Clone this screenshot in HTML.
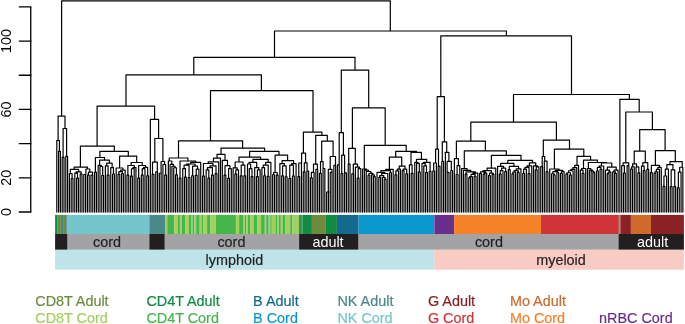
<!DOCTYPE html>
<html><head><meta charset="utf-8"><style>
html,body{margin:0;padding:0;background:#fff;}
svg{display:block;font-family:"Liberation Sans",sans-serif;}
.t{opacity:0.999;will-change:opacity;}
</style></head><body>
<svg width="685" height="324" viewBox="0 0 685 324">
<rect x="55.10" y="214.9" width="2.10" height="19.1" fill="#0F8B44"/><rect x="57.20" y="214.9" width="3.70" height="19.1" fill="#6E8B3D"/><rect x="60.90" y="214.9" width="3.00" height="19.1" fill="#4B888A"/><rect x="63.90" y="214.9" width="2.30" height="19.1" fill="#6E8B3D"/><rect x="66.20" y="214.9" width="1.40" height="19.1" fill="#4B888A"/><rect x="67.60" y="214.9" width="81.70" height="19.1" fill="#77C5CC"/><rect x="149.30" y="214.9" width="15.70" height="19.1" fill="#4B888A"/><rect x="165.00" y="214.9" width="2.20" height="19.1" fill="#A2CF5E"/><rect x="167.20" y="214.9" width="7.00" height="19.1" fill="#45B649"/><rect x="174.20" y="214.9" width="3.60" height="19.1" fill="#A2CF5E"/><rect x="177.80" y="214.9" width="2.10" height="19.1" fill="#45B649"/><rect x="179.90" y="214.9" width="2.10" height="19.1" fill="#A2CF5E"/><rect x="182.00" y="214.9" width="3.10" height="19.1" fill="#45B649"/><rect x="185.10" y="214.9" width="3.90" height="19.1" fill="#A2CF5E"/><rect x="189.00" y="214.9" width="2.00" height="19.1" fill="#45B649"/><rect x="191.00" y="214.9" width="1.50" height="19.1" fill="#A2CF5E"/><rect x="192.50" y="214.9" width="2.00" height="19.1" fill="#45B649"/><rect x="194.50" y="214.9" width="1.70" height="19.1" fill="#A2CF5E"/><rect x="196.20" y="214.9" width="3.50" height="19.1" fill="#45B649"/><rect x="199.70" y="214.9" width="1.80" height="19.1" fill="#A2CF5E"/><rect x="201.50" y="214.9" width="1.70" height="19.1" fill="#45B649"/><rect x="203.20" y="214.9" width="3.90" height="19.1" fill="#A2CF5E"/><rect x="207.10" y="214.9" width="3.40" height="19.1" fill="#45B649"/><rect x="210.50" y="214.9" width="5.30" height="19.1" fill="#A2CF5E"/><rect x="215.80" y="214.9" width="20.10" height="19.1" fill="#45B649"/><rect x="235.90" y="214.9" width="3.20" height="19.1" fill="#A2CF5E"/><rect x="239.10" y="214.9" width="3.90" height="19.1" fill="#45B649"/><rect x="243.00" y="214.9" width="1.70" height="19.1" fill="#A2CF5E"/><rect x="244.70" y="214.9" width="1.50" height="19.1" fill="#45B649"/><rect x="246.20" y="214.9" width="1.60" height="19.1" fill="#A2CF5E"/><rect x="247.80" y="214.9" width="2.30" height="19.1" fill="#45B649"/><rect x="250.10" y="214.9" width="3.60" height="19.1" fill="#A2CF5E"/><rect x="253.70" y="214.9" width="3.60" height="19.1" fill="#45B649"/><rect x="257.30" y="214.9" width="3.80" height="19.1" fill="#A2CF5E"/><rect x="261.10" y="214.9" width="3.70" height="19.1" fill="#45B649"/><rect x="264.80" y="214.9" width="1.40" height="19.1" fill="#A2CF5E"/><rect x="266.20" y="214.9" width="2.50" height="19.1" fill="#45B649"/><rect x="268.70" y="214.9" width="1.60" height="19.1" fill="#A2CF5E"/><rect x="270.30" y="214.9" width="1.50" height="19.1" fill="#45B649"/><rect x="271.80" y="214.9" width="3.60" height="19.1" fill="#A2CF5E"/><rect x="275.40" y="214.9" width="1.70" height="19.1" fill="#45B649"/><rect x="277.10" y="214.9" width="1.80" height="19.1" fill="#A2CF5E"/><rect x="278.90" y="214.9" width="1.90" height="19.1" fill="#45B649"/><rect x="280.80" y="214.9" width="2.00" height="19.1" fill="#A2CF5E"/><rect x="282.80" y="214.9" width="2.30" height="19.1" fill="#45B649"/><rect x="285.10" y="214.9" width="5.10" height="19.1" fill="#A2CF5E"/><rect x="290.20" y="214.9" width="2.00" height="19.1" fill="#45B649"/><rect x="292.20" y="214.9" width="4.60" height="19.1" fill="#A2CF5E"/><rect x="296.80" y="214.9" width="0.80" height="19.1" fill="#45B649"/><rect x="297.60" y="214.9" width="1.50" height="19.1" fill="#A2CF5E"/><rect x="299.10" y="214.9" width="1.80" height="19.1" fill="#0F8B44"/><rect x="300.90" y="214.9" width="1.50" height="19.1" fill="#6E8B3D"/><rect x="302.40" y="214.9" width="9.50" height="19.1" fill="#0F8B44"/><rect x="311.90" y="214.9" width="14.00" height="19.1" fill="#6E8B3D"/><rect x="325.90" y="214.9" width="11.00" height="19.1" fill="#0F8B44"/><rect x="336.90" y="214.9" width="21.70" height="19.1" fill="#136A8E"/><rect x="358.60" y="214.9" width="75.80" height="19.1" fill="#0B98CF"/><rect x="434.40" y="214.9" width="19.70" height="19.1" fill="#6B2D8E"/><rect x="454.10" y="214.9" width="86.90" height="19.1" fill="#F58129"/><rect x="541.00" y="214.9" width="77.60" height="19.1" fill="#D13438"/><rect x="618.60" y="214.9" width="0.90" height="19.1" fill="#8A2124"/><rect x="619.50" y="214.9" width="0.90" height="19.1" fill="#D0692A"/><rect x="620.40" y="214.9" width="10.50" height="19.1" fill="#8A2124"/><rect x="630.90" y="214.9" width="20.00" height="19.1" fill="#D0692A"/><rect x="650.90" y="214.9" width="33.00" height="19.1" fill="#8A2124"/><rect x="55.10" y="234.0" width="12.50" height="15.8" fill="#231F20"/><rect x="67.60" y="234.0" width="81.70" height="15.8" fill="#A3A3A6"/><rect x="149.30" y="234.0" width="15.50" height="15.8" fill="#231F20"/><rect x="164.80" y="234.0" width="134.30" height="15.8" fill="#A3A3A6"/><rect x="299.10" y="234.0" width="59.50" height="15.8" fill="#231F20"/><rect x="358.60" y="234.0" width="259.90" height="15.8" fill="#A3A3A6"/><rect x="618.50" y="234.0" width="65.40" height="15.8" fill="#231F20"/><rect x="55.10" y="249.8" width="379.30" height="19.9" fill="#BEE4E9"/><rect x="434.40" y="249.8" width="249.50" height="19.9" fill="#F9CBC5"/>
<g class="t"><text x="107.0" y="246.7" fill="#231F20" stroke="#231F20" stroke-width="0.2" font-size="14.4" text-anchor="middle">cord</text><text x="231.4" y="246.7" fill="#231F20" stroke="#231F20" stroke-width="0.2" font-size="14.4" text-anchor="middle">cord</text><text x="328.0" y="246.9" fill="#fff" stroke="#fff" stroke-width="0" font-size="14.4" text-anchor="middle">adult</text><text x="488.9" y="246.7" fill="#231F20" stroke="#231F20" stroke-width="0.2" font-size="14.4" text-anchor="middle">cord</text><text x="652.6" y="246.9" fill="#fff" stroke="#fff" stroke-width="0" font-size="14.4" text-anchor="middle">adult</text><text x="234.4" y="265.3" fill="#231F20" stroke="#231F20" stroke-width="0.2" font-size="14.4" text-anchor="middle">lymphoid</text><text x="561.0" y="265.3" fill="#231F20" stroke="#231F20" stroke-width="0.2" font-size="14.4" text-anchor="middle">myeloid</text>
<text x="35.300000000000004" y="306.0" fill="#6E8B3D" stroke="#6E8B3D" stroke-width="0.2" font-size="14.4" text-anchor="start">CD8T Adult</text><text x="35.300000000000004" y="322.9" fill="#A2CF5E" stroke="#A2CF5E" stroke-width="0.2" font-size="14.4" text-anchor="start">CD8T Cord</text><text x="146.39999999999998" y="306.0" fill="#0F8B44" stroke="#0F8B44" stroke-width="0.2" font-size="14.4" text-anchor="start">CD4T Adult</text><text x="146.39999999999998" y="322.9" fill="#45B649" stroke="#45B649" stroke-width="0.2" font-size="14.4" text-anchor="start">CD4T Cord</text><text x="253.1" y="306.0" fill="#136A8E" stroke="#136A8E" stroke-width="0.2" font-size="14.4" text-anchor="start">B Adult</text><text x="253.1" y="322.9" fill="#0B98CF" stroke="#0B98CF" stroke-width="0.2" font-size="14.4" text-anchor="start">B Cord</text><text x="337.4" y="306.0" fill="#4B888A" stroke="#4B888A" stroke-width="0.2" font-size="14.4" text-anchor="start">NK Adult</text><text x="337.4" y="322.9" fill="#77C5CC" stroke="#77C5CC" stroke-width="0.2" font-size="14.4" text-anchor="start">NK Cord</text><text x="427.9" y="306.0" fill="#8A2124" stroke="#8A2124" stroke-width="0.2" font-size="14.4" text-anchor="start">G Adult</text><text x="427.9" y="322.9" fill="#D13438" stroke="#D13438" stroke-width="0.2" font-size="14.4" text-anchor="start">G Cord</text><text x="509.9" y="306.0" fill="#D0692A" stroke="#D0692A" stroke-width="0.2" font-size="14.4" text-anchor="start">Mo Adult</text><text x="509.9" y="322.9" fill="#F58129" stroke="#F58129" stroke-width="0.2" font-size="14.4" text-anchor="start">Mo Cord</text><text x="599.1" y="322.9" fill="#6B2D8E" stroke="#6B2D8E" stroke-width="0.2" font-size="14.4" text-anchor="start">nRBC Cord</text>
<path d="M30.75 6.9V212.0" stroke="#000" stroke-width="1.3" fill="none"/><path d="M18.8 212.00H31.4M18.8 177.82H31.4M18.8 143.63H31.4M18.8 109.45H31.4M18.8 75.26H31.4M18.8 41.08H31.4M18.8 6.90H31.4" stroke="#000" stroke-width="1.3" fill="none"/><text transform="translate(10.8 212.00) rotate(-90)" font-size="14.4" text-anchor="middle" fill="#000">0</text><text transform="translate(10.8 177.82) rotate(-90)" font-size="14.4" text-anchor="middle" fill="#000">20</text><text transform="translate(10.8 109.45) rotate(-90)" font-size="14.4" text-anchor="middle" fill="#000">60</text><text transform="translate(10.8 41.08) rotate(-90)" font-size="14.4" text-anchor="middle" fill="#000">100</text></g>
<path d="M56.80 140.50L56.80 212.10M56.70 140.50L56.80 140.50M58.60 151.40L58.60 212.10M58.50 151.40L58.60 151.40M60.40 151.40L60.40 212.10M60.30 151.40L60.40 151.40M62.20 157.30L62.20 212.10M62.10 157.30L62.20 157.30M64.00 157.30L64.00 212.10M63.90 157.30L64.00 157.30M65.80 156.30L65.80 212.10M65.70 156.30L65.80 156.30M67.59 156.30L67.59 212.10M67.50 156.30L67.59 156.30M69.39 173.60L69.39 212.10M71.19 178.48L71.19 212.10M72.99 178.48L72.99 212.10M71.19 178.48L72.99 178.48M72.09 173.60L72.09 178.48M69.39 173.60L72.09 173.60M70.30 169.30L70.30 173.60M70.30 173.60L70.74 173.60M74.79 173.13L74.79 212.10M76.59 178.12L76.59 212.10M78.39 178.12L78.39 212.10M76.59 178.12L78.39 178.12M77.49 173.13L77.49 178.12M74.79 173.13L77.49 173.13M76.14 171.80L76.14 173.13M80.19 174.10L80.19 212.10M81.99 174.10L81.99 212.10M80.19 174.10L81.99 174.10M81.09 171.80L81.09 174.10M76.14 171.80L81.09 171.80M78.70 169.30L78.70 171.80M78.61 171.80L78.70 171.80M83.78 174.48L83.78 212.10M85.58 174.48L85.58 212.10M83.78 174.48L85.58 174.48M85.90 169.00L85.90 174.48M84.68 174.48L85.90 174.48M87.38 175.20L87.38 212.10M89.18 175.20L89.18 212.10M87.38 175.20L89.18 175.20M88.40 172.20L88.40 175.20M88.28 175.20L88.40 175.20M90.98 175.20L90.98 212.10M92.78 175.20L92.78 212.10M90.98 175.20L92.78 175.20M92.60 172.20L92.60 175.20M91.88 175.20L92.60 175.20M94.58 172.20L94.58 212.10M96.38 172.20L96.38 212.10M94.58 172.20L96.38 172.20M95.40 157.50L95.40 172.20M95.40 172.20L95.48 172.20M98.18 165.30L98.18 212.10M99.98 166.52L99.98 212.10M101.78 175.49L101.78 212.10M103.57 175.49L103.57 212.10M101.78 175.49L103.57 175.49M102.67 166.52L102.67 175.49M99.98 166.52L102.67 166.52M101.33 165.30L101.33 166.52M98.18 165.30L101.33 165.30M99.60 160.20L99.60 165.30M99.60 165.30L99.75 165.30M105.37 165.84L105.37 212.10M107.17 175.03L107.17 212.10M108.97 175.03L108.97 212.10M107.17 175.03L108.97 175.03M108.07 165.84L108.07 175.03M105.37 165.84L108.07 165.84M106.72 163.20L106.72 165.84M110.77 167.65L110.77 212.10M112.57 173.99L112.57 212.10M114.37 173.99L114.37 212.10M112.57 173.99L114.37 173.99M113.47 167.65L113.47 173.99M110.77 167.65L113.47 167.65M112.12 163.20L112.12 167.65M106.72 163.20L112.12 163.20M109.40 160.20L109.40 163.20M116.17 168.00L116.17 212.10M117.97 174.30L117.97 212.10M119.76 174.30L119.76 212.10M117.97 174.30L119.76 174.30M118.87 171.69L118.87 174.30M121.56 173.66L121.56 212.10M123.36 173.66L123.36 212.10M121.56 173.66L123.36 173.66M122.46 171.69L122.46 173.66M118.87 171.69L122.46 171.69M120.66 170.06L120.66 171.69M125.16 170.06L125.16 212.10M120.66 170.06L125.16 170.06M122.91 168.00L122.91 170.06M116.17 168.00L122.91 168.00M119.60 156.10L119.60 168.00M119.54 168.00L119.60 168.00M126.96 175.13L126.96 212.10M128.76 175.13L128.76 212.10M126.96 175.13L128.76 175.13M127.86 165.50L127.86 175.13M130.56 176.18L130.56 212.10M132.36 176.18L132.36 212.10M130.56 176.18L132.36 176.18M131.46 168.77L131.46 176.18M134.16 168.77L134.16 212.10M131.46 168.77L134.16 168.77M132.81 167.57L132.81 168.77M135.96 167.57L135.96 212.10M132.81 167.57L135.96 167.57M134.38 165.50L134.38 167.57M127.86 165.50L134.38 165.50M131.10 162.50L131.10 165.50M137.75 178.06L137.75 212.10M139.55 178.06L139.55 212.10M137.75 178.06L139.55 178.06M138.65 165.50L138.65 178.06M141.35 175.16L141.35 212.10M143.15 175.16L143.15 212.10M141.35 175.16L143.15 175.16M142.25 168.61L142.25 175.16M144.95 168.61L144.95 212.10M142.25 168.61L144.95 168.61M143.60 167.43L143.60 168.61M146.75 175.88L146.75 212.10M148.55 175.88L148.55 212.10M146.75 175.88L148.55 175.88M147.65 167.43L147.65 175.88M143.60 167.43L147.65 167.43M145.63 165.50L145.63 167.43M138.65 165.50L145.63 165.50M142.20 162.50L142.20 165.50M142.14 165.50L142.20 165.50M150.35 119.40L150.35 212.10M150.35 119.40L150.60 119.40M152.15 174.43L152.15 212.10M153.95 174.43L153.95 212.10M152.15 174.43L153.95 174.43M152.50 162.20L152.50 174.43M152.50 174.43L153.05 174.43M155.75 171.88L155.75 212.10M157.54 171.88L157.54 212.10M155.75 171.88L157.54 171.88M157.30 162.20L157.30 171.88M156.64 171.88L157.30 171.88M159.34 173.27L159.34 212.10M161.14 173.27L161.14 212.10M159.34 173.27L161.14 173.27M161.10 161.50L161.10 173.27M160.24 173.27L161.10 173.27M162.94 164.50L162.94 212.10M164.74 175.07L164.74 212.10M166.54 175.07L166.54 212.10M164.74 175.07L166.54 175.07M165.64 164.50L165.64 175.07M162.94 164.50L165.64 164.50M164.60 161.50L164.60 164.50M164.29 164.50L164.60 164.50M168.34 161.00L168.34 212.10M170.14 164.47L170.14 212.10M171.94 166.25L171.94 212.10M173.74 167.76L173.74 212.10M175.53 174.89L175.53 212.10M177.33 174.89L177.33 212.10M175.53 174.89L177.33 174.89M176.43 167.76L176.43 174.89M173.74 167.76L176.43 167.76M175.08 166.25L175.08 167.76M171.94 166.25L175.08 166.25M173.51 164.47L173.51 166.25M170.14 164.47L173.51 164.47M171.82 161.00L171.82 164.47M168.34 161.00L171.82 161.00M169.20 158.00L169.20 161.00M169.20 161.00L170.08 161.00M179.13 178.19L179.13 212.10M180.93 178.19L180.93 212.10M179.13 178.19L180.93 178.19M180.03 161.00L180.03 178.19M182.73 168.71L182.73 212.10M184.53 177.05L184.53 212.10M186.33 177.05L186.33 212.10M184.53 177.05L186.33 177.05M185.43 168.71L185.43 177.05M182.73 168.71L185.43 168.71M184.08 165.17L184.08 168.71M188.13 177.57L188.13 212.10M189.93 177.57L189.93 212.10M188.13 177.57L189.93 177.57M189.03 165.17L189.03 177.57M184.08 165.17L189.03 165.17M186.55 164.00L186.55 165.17M191.72 175.82L191.72 212.10M193.52 175.82L193.52 212.10M191.72 175.82L193.52 175.82M192.62 166.17L192.62 175.82M195.32 175.28L195.32 212.10M197.12 175.28L197.12 212.10M195.32 175.28L197.12 175.28M196.22 169.11L196.22 175.28M198.92 169.11L198.92 212.10M196.22 169.11L198.92 169.11M197.57 166.17L197.57 169.11M192.62 166.17L197.57 166.17M195.10 164.00L195.10 166.17M186.55 164.00L195.10 164.00M190.83 162.43L190.83 164.00M200.72 162.43L200.72 212.10M190.83 162.43L200.72 162.43M195.77 161.00L195.77 162.43M180.03 161.00L195.77 161.00M187.90 158.00L187.90 161.00M202.52 176.07L202.52 212.10M204.32 176.07L204.32 212.10M202.52 176.07L204.32 176.07M203.42 163.52L203.42 176.07M206.12 169.78L206.12 212.10M207.92 178.20L207.92 212.10M209.71 178.20L209.71 212.10M207.92 178.20L209.71 178.20M208.82 169.78L208.82 178.20M206.12 169.78L208.82 169.78M207.47 167.65L207.47 169.78M211.51 175.12L211.51 212.10M213.31 175.12L213.31 212.10M211.51 175.12L213.31 175.12M212.41 167.65L212.41 175.12M207.47 167.65L212.41 167.65M209.94 165.80L209.94 167.65M215.11 173.59L215.11 212.10M216.91 173.59L216.91 212.10M215.11 173.59L216.91 173.59M216.01 165.80L216.01 173.59M209.94 165.80L216.01 165.80M212.98 163.52L212.98 165.80M203.42 163.52L212.98 163.52M208.20 161.96L208.20 163.52M218.71 161.96L218.71 212.10M208.20 161.96L218.71 161.96M213.45 158.04L213.45 161.96M220.51 158.04L220.51 212.10M213.45 158.04L220.51 158.04M217.00 154.40L217.00 158.04M222.31 160.29L222.31 212.10M224.11 175.05L224.11 212.10M225.91 175.05L225.91 212.10M224.11 175.05L225.91 175.05M225.01 165.69L225.01 175.05M227.70 178.45L227.70 212.10M229.50 178.45L229.50 212.10M227.70 178.45L229.50 178.45M228.60 168.54L228.60 178.45M231.30 168.54L231.30 212.10M228.60 168.54L231.30 168.54M229.95 165.69L229.95 168.54M225.01 165.69L229.95 165.69M227.48 160.29L227.48 165.69M222.31 160.29L227.48 160.29M225.00 154.40L225.00 160.29M224.89 160.29L225.00 160.29M233.10 167.81L233.10 212.10M234.90 174.08L234.90 212.10M236.70 174.08L236.70 212.10M234.90 174.08L236.70 174.08M235.80 169.96L235.80 174.08M238.50 169.96L238.50 212.10M235.80 169.96L238.50 169.96M237.15 167.81L237.15 169.96M233.10 167.81L237.15 167.81M235.13 162.00L235.13 167.81M240.30 175.78L240.30 212.10M242.10 175.78L242.10 212.10M240.30 175.78L242.10 175.78M241.20 165.22L241.20 175.78M243.90 175.95L243.90 212.10M245.69 175.95L245.69 212.10M243.90 175.95L245.69 175.95M244.80 165.22L244.80 175.95M241.20 165.22L244.80 165.22M243.00 162.00L243.00 165.22M235.13 162.00L243.00 162.00M239.00 157.20L239.00 162.00M239.00 162.00L239.06 162.00M247.49 164.00L247.49 212.10M249.29 168.57L249.29 212.10M251.09 176.57L251.09 212.10M252.89 176.57L252.89 212.10M251.09 176.57L252.89 176.57M251.99 168.57L251.99 176.57M249.29 168.57L251.99 168.57M250.64 164.00L250.64 168.57M247.49 164.00L250.64 164.00M249.07 162.30L249.07 164.00M254.69 167.54L254.69 212.10M256.49 176.56L256.49 212.10M258.29 176.56L258.29 212.10M256.49 176.56L258.29 176.56M257.39 169.91L257.39 176.56M260.09 169.91L260.09 212.10M257.39 169.91L260.09 169.91M258.74 167.54L258.74 169.91M254.69 167.54L258.74 167.54M256.71 162.30L256.71 167.54M249.07 162.30L256.71 162.30M252.90 159.30L252.90 162.30M261.89 167.65L261.89 212.10M263.69 175.77L263.69 212.10M265.48 175.77L265.48 212.10M263.69 175.77L265.48 175.77M264.58 167.65L264.58 175.77M261.89 167.65L264.58 167.65M263.24 165.16L263.24 167.65M267.28 176.36L267.28 212.10M269.08 176.36L269.08 212.10M267.28 176.36L269.08 176.36M268.18 165.16L268.18 176.36M263.24 165.16L268.18 165.16M265.71 162.30L265.71 165.16M270.88 162.30L270.88 212.10M265.71 162.30L270.88 162.30M268.20 159.30L268.20 162.30M268.20 162.30L268.29 162.30M272.68 174.68L272.68 212.10M274.48 174.68L274.48 212.10M272.68 174.68L274.48 174.68M273.58 172.50L273.58 174.68M276.28 175.10L276.28 212.10M278.08 175.10L278.08 212.10M276.28 175.10L278.08 175.10M277.18 172.50L277.18 175.10M273.58 172.50L277.18 172.50M275.10 155.10L275.10 172.50M275.10 172.50L275.38 172.50M279.88 163.70L279.88 212.10M281.68 175.91L281.68 212.10M283.47 175.91L283.47 212.10M281.68 175.91L283.47 175.91M282.57 165.81L282.57 175.91M285.27 176.77L285.27 212.10M287.07 176.77L287.07 212.10M285.27 176.77L287.07 176.77M286.17 165.81L286.17 176.77M282.57 165.81L286.17 165.81M284.37 163.70L284.37 165.81M279.88 163.70L284.37 163.70M282.10 160.70L282.10 163.70M288.87 178.49L288.87 212.10M290.67 178.49L290.67 212.10M288.87 178.49L290.67 178.49M289.77 165.14L289.77 178.49M292.47 176.01L292.47 212.10M294.27 176.01L294.27 212.10M292.47 176.01L294.27 176.01M293.37 165.14L293.37 176.01M289.77 165.14L293.37 165.14M291.57 163.70L291.57 165.14M296.07 163.70L296.07 212.10M291.57 163.70L296.07 163.70M293.60 160.70L293.60 163.70M293.60 163.70L293.82 163.70M297.87 176.64L297.87 212.10M299.66 176.64L299.66 212.10M297.87 176.64L299.66 176.64M298.77 163.01L298.77 176.64M301.46 163.01L301.46 212.10M298.77 163.01L301.46 163.01M301.60 153.20L301.60 163.01M300.11 163.01L301.60 163.01M303.26 171.90L303.26 212.10M305.06 171.90L305.06 212.10M303.26 171.90L305.06 171.90M304.30 162.80L304.30 171.90M304.16 171.90L304.30 171.90M306.86 171.20L306.86 212.10M308.66 171.20L308.66 212.10M306.86 171.20L308.66 171.20M307.10 162.80L307.10 171.20M307.10 171.20L307.76 171.20M310.46 177.86L310.46 212.10M312.26 177.86L312.26 212.10M310.46 177.86L312.26 177.86M311.36 172.40L311.36 177.86M314.06 172.40L314.06 212.10M311.36 172.40L314.06 172.40M313.50 164.20L313.50 172.40M312.71 172.40L313.50 172.40M315.86 169.30L315.86 212.10M317.66 169.30L317.66 212.10M315.86 169.30L317.66 169.30M317.40 164.20L317.40 169.30M316.76 169.30L317.40 169.30M319.45 173.29L319.45 212.10M321.25 173.29L321.25 212.10M319.45 173.29L321.25 173.29M320.50 161.60L320.50 173.29M320.35 173.29L320.50 173.29M323.05 168.50L323.05 212.10M324.85 168.50L324.85 212.10M323.05 168.50L324.85 168.50M323.10 161.60L323.10 168.50M323.10 168.50L323.95 168.50M326.65 192.00L326.65 212.10M326.65 192.00L327.40 192.00M328.45 192.00L328.45 212.10M328.45 192.00L329.20 192.00M330.25 172.30L330.25 212.10M332.05 172.30L332.05 212.10M330.25 172.30L332.05 172.30M332.00 169.30L332.00 172.30M331.15 172.30L332.00 172.30M333.85 165.40L333.85 212.10M335.64 165.40L335.64 212.10M333.85 165.40L335.64 165.40M335.50 156.50L335.50 165.40M334.75 165.40L335.50 165.40M337.44 164.90L337.44 212.10M339.24 164.90L339.24 212.10M337.44 164.90L339.24 164.90M339.20 132.60L339.20 164.90M338.34 164.90L339.20 164.90M341.04 173.69L341.04 212.10M342.84 173.69L342.84 212.10M341.04 173.69L342.84 173.69M341.70 155.10L341.70 173.69M341.70 173.69L341.94 173.69M344.64 172.90L344.64 212.10M346.44 172.90L346.44 212.10M344.64 172.90L346.44 172.90M344.60 155.10L344.60 172.90M344.60 172.90L345.54 172.90M348.24 164.20L348.24 212.10M350.04 164.20L350.04 212.10M348.24 164.20L350.04 164.20M348.70 148.30L348.70 164.20M348.70 164.20L349.14 164.20M351.84 173.87L351.84 212.10M353.63 173.87L353.63 212.10M351.84 173.87L353.63 173.87M353.30 164.20L353.30 173.87M352.74 173.87L353.30 173.87M355.43 167.20L355.43 212.10M357.23 178.19L357.23 212.10M359.03 178.19L359.03 212.10M357.23 178.19L359.03 178.19M358.13 168.61L358.13 178.19M360.83 168.61L360.83 212.10M358.13 168.61L360.83 168.61M359.48 167.20L359.48 168.61M355.43 167.20L359.48 167.20M357.50 164.20L357.50 167.20M362.63 169.00L362.63 212.10M364.43 170.13L364.43 212.10M366.23 171.49L366.23 212.10M368.03 175.24L368.03 212.10M369.83 175.24L369.83 212.10M368.03 175.24L369.83 175.24M368.93 173.44L368.93 175.24M371.62 174.88L371.62 212.10M373.42 176.63L373.42 212.10M375.22 176.63L375.22 212.10M373.42 176.63L375.22 176.63M374.32 174.88L374.32 176.63M371.62 174.88L374.32 174.88M372.97 173.44L372.97 174.88M368.93 173.44L372.97 173.44M370.95 171.49L370.95 173.44M366.23 171.49L370.95 171.49M368.59 170.13L368.59 171.49M364.43 170.13L368.59 170.13M366.51 169.00L366.51 170.13M362.63 169.00L366.51 169.00M364.30 145.30L364.30 169.00M364.30 169.00L364.57 169.00M377.02 172.44L377.02 212.10M378.82 177.41L378.82 212.10M380.62 177.41L380.62 212.10M378.82 177.41L380.62 177.41M379.72 175.66L379.72 177.41M382.42 177.51L382.42 212.10M384.22 179.16L384.22 212.10M386.02 179.16L386.02 212.10M384.22 179.16L386.02 179.16M385.12 177.51L385.12 179.16M382.42 177.51L385.12 177.51M383.77 175.66L383.77 177.51M379.72 175.66L383.77 175.66M381.74 173.51L381.74 175.66M387.82 173.51L387.82 212.10M381.74 173.51L387.82 173.51M384.78 172.44L384.78 173.51M377.02 172.44L384.78 172.44M380.90 170.68L380.90 172.44M389.62 172.66L389.62 212.10M391.41 172.66L391.41 212.10M389.62 172.66L391.41 172.66M390.51 170.68L390.51 172.66M380.90 170.68L390.51 170.68M385.71 169.40L385.71 170.68M393.21 169.40L393.21 212.10M385.71 169.40L393.21 169.40M389.40 157.20L389.40 169.40M389.40 169.40L389.46 169.40M395.01 174.84L395.01 212.10M396.81 174.84L396.81 212.10M395.01 174.84L396.81 174.84M395.91 170.79L395.91 174.84M398.61 170.79L398.61 212.10M395.91 170.79L398.61 170.79M397.26 169.20L397.26 170.79M400.41 169.20L400.41 212.10M397.26 169.20L400.41 169.20M399.20 166.20L399.20 169.20M398.83 169.20L399.20 169.20M402.21 170.61L402.21 212.10M404.01 170.61L404.01 212.10M402.21 170.61L404.01 170.61M403.11 169.20L403.11 170.61M405.81 173.81L405.81 212.10M407.61 173.81L407.61 212.10M405.81 173.81L407.61 173.81M406.71 169.20L406.71 173.81M403.11 169.20L406.71 169.20M405.00 166.20L405.00 169.20M404.91 169.20L405.00 169.20M409.40 164.90L409.40 212.10M411.20 173.38L411.20 212.10M413.00 173.38L413.00 212.10M411.20 173.38L413.00 173.38M412.10 164.90L412.10 173.38M409.40 164.90L412.10 164.90M411.00 152.40L411.00 164.90M410.75 164.90L411.00 164.90M414.80 162.30L414.80 212.10M416.60 163.44L416.60 212.10M418.40 172.03L418.40 212.10M420.20 172.03L420.20 212.10M418.40 172.03L420.20 172.03M419.30 163.44L419.30 172.03M416.60 163.44L419.30 163.44M417.95 162.30L417.95 163.44M414.80 162.30L417.95 162.30M416.50 159.30L416.50 162.30M416.38 162.30L416.50 162.30M422.00 163.40L422.00 212.10M423.80 165.90L423.80 212.10M425.59 172.54L425.59 212.10M427.39 172.54L427.39 212.10M425.59 172.54L427.39 172.54M426.49 165.90L426.49 172.54M423.80 165.90L426.49 165.90M425.15 163.40L425.15 165.90M422.00 163.40L425.15 163.40M423.57 162.30L423.57 163.40M429.19 171.32L429.19 212.10M430.99 171.32L430.99 212.10M429.19 171.32L430.99 171.32M430.09 162.30L430.09 171.32M423.57 162.30L430.09 162.30M426.70 159.30L426.70 162.30M426.70 162.30L426.83 162.30M432.79 170.98L432.79 212.10M434.59 170.98L434.59 212.10M432.79 170.98L434.59 170.98M433.69 162.99L433.69 170.98M436.39 162.99L436.39 212.10M433.69 162.99L436.39 162.99M435.60 149.20L435.60 162.99M435.04 162.99L435.60 162.99M438.19 166.20L438.19 212.10M439.99 166.20L439.99 212.10M438.19 166.20L439.99 166.20M438.50 149.20L438.50 166.20M438.50 166.20L439.09 166.20M441.79 161.40L441.79 212.10M443.58 161.40L443.58 212.10M441.79 161.40L443.58 161.40M442.30 141.80L442.30 161.40M442.30 161.40L442.69 161.40M445.38 152.30L445.38 212.10M445.00 152.30L445.38 152.30M447.18 172.46L447.18 212.10M448.98 172.46L448.98 212.10M447.18 172.46L448.98 172.46M447.10 161.40L447.10 172.46M447.10 172.46L448.08 172.46M450.78 170.51L450.78 212.10M452.58 170.51L452.58 212.10M450.78 170.51L452.58 170.51M451.30 161.40L451.30 170.51M451.30 170.51L451.68 170.51M454.38 158.60L454.38 212.10M456.18 174.50L456.18 212.10M457.98 174.50L457.98 212.10M456.18 174.50L457.98 174.50M457.08 165.64L457.08 174.50M459.78 165.64L459.78 212.10M457.08 165.64L459.78 165.64M458.43 158.60L458.43 165.64M454.38 158.60L458.43 158.60M456.40 141.10L456.40 158.60M461.57 168.60L461.57 212.10M463.37 170.36L463.37 212.10M465.17 174.07L465.17 212.10M466.97 174.07L466.97 212.10M465.17 174.07L466.97 174.07M466.07 171.87L466.07 174.07M468.77 177.96L468.77 212.10M470.57 177.96L470.57 212.10M468.77 177.96L470.57 177.96M469.67 176.69L469.67 177.96M472.37 176.69L472.37 212.10M469.67 176.69L472.37 176.69M471.02 174.40L471.02 176.69M474.17 176.26L474.17 212.10M475.97 176.26L475.97 212.10M474.17 176.26L475.97 176.26M475.07 174.40L475.07 176.26M471.02 174.40L475.07 174.40M473.04 173.21L473.04 174.40M477.77 173.21L477.77 212.10M473.04 173.21L477.77 173.21M475.40 171.87L475.40 173.21M466.07 171.87L475.40 171.87M470.74 170.36L470.74 171.87M463.37 170.36L470.74 170.36M467.06 168.60L467.06 170.36M461.57 168.60L467.06 168.60M464.30 150.80L464.30 168.60M479.56 173.62L479.56 212.10M481.36 173.62L481.36 212.10M479.56 173.62L481.36 173.62M480.46 171.97L480.46 173.62M483.16 174.23L483.16 212.10M484.96 174.23L484.96 212.10M483.16 174.23L484.96 174.23M484.06 173.18L484.06 174.23M486.76 173.18L486.76 212.10M484.06 173.18L486.76 173.18M485.41 171.97L485.41 173.18M480.46 171.97L485.41 171.97M482.94 170.63L482.94 171.97M488.56 175.59L488.56 212.10M490.36 175.59L490.36 212.10M488.56 175.59L490.36 175.59M489.46 173.09L489.46 175.59M492.16 174.43L492.16 212.10M493.96 174.43L493.96 212.10M492.16 174.43L493.96 174.43M493.06 173.09L493.06 174.43M489.46 173.09L493.06 173.09M491.26 170.63L491.26 173.09M482.94 170.63L491.26 170.63M487.10 168.20L487.10 170.63M495.76 168.20L495.76 212.10M487.10 168.20L495.76 168.20M491.40 155.30L491.40 168.20M497.56 166.30L497.56 212.10M499.35 174.18L499.35 212.10M501.15 174.18L501.15 212.10M499.35 174.18L501.15 174.18M500.25 170.63L500.25 174.18M502.95 170.63L502.95 212.10M500.25 170.63L502.95 170.63M501.60 168.19L501.60 170.63M504.75 171.64L504.75 212.10M506.55 171.64L506.55 212.10M504.75 171.64L506.55 171.64M505.65 168.19L505.65 171.64M501.60 168.19L505.65 168.19M503.63 166.30L503.63 168.19M497.56 166.30L503.63 166.30M500.70 163.30L500.70 166.30M500.59 166.30L500.70 166.30M508.35 169.59L508.35 212.10M510.15 169.59L510.15 212.10M508.35 169.59L510.15 169.59M509.25 166.30L509.25 169.59M511.95 173.91L511.95 212.10M513.75 173.91L513.75 212.10M511.95 173.91L513.75 173.91M512.85 172.13L512.85 173.91M515.54 172.13L515.54 212.10M512.85 172.13L515.54 172.13M514.20 170.72L514.20 172.13M517.34 172.28L517.34 212.10M519.14 172.28L519.14 212.10M517.34 172.28L519.14 172.28M518.24 170.72L518.24 172.28M514.20 170.72L518.24 170.72M516.22 168.87L516.22 170.72M520.94 168.87L520.94 212.10M516.22 168.87L520.94 168.87M518.58 166.30L518.58 168.87M509.25 166.30L518.58 166.30M513.90 163.30L513.90 166.30M522.74 173.50L522.74 212.10M524.54 173.50L524.54 212.10M522.74 173.50L524.54 173.50M523.64 169.11L523.64 173.50M526.34 169.11L526.34 212.10M523.64 169.11L526.34 169.11M524.99 167.35L524.99 169.11M528.14 173.64L528.14 212.10M529.94 173.64L529.94 212.10M528.14 173.64L529.94 173.64M529.04 167.35L529.04 173.64M524.99 167.35L529.04 167.35M527.01 165.80L527.01 167.35M531.74 165.80L531.74 212.10M527.01 165.80L531.74 165.80M529.40 162.80L529.40 165.80M533.53 165.80L533.53 212.10M535.33 169.89L535.33 212.10M537.13 169.89L537.13 212.10M535.33 169.89L537.13 169.89M536.23 166.92L536.23 169.89M538.93 166.92L538.93 212.10M536.23 166.92L538.93 166.92M537.58 165.80L537.58 166.92M533.53 165.80L537.58 165.80M535.70 162.80L535.70 165.80M535.56 165.80L535.70 165.80M540.73 166.58L540.73 212.10M542.53 166.58L542.53 212.10M540.73 166.58L542.53 166.58M542.20 156.50L542.20 166.58M541.63 166.58L542.20 166.58M544.33 161.06L544.33 212.10M546.13 171.81L546.13 212.10M547.93 171.81L547.93 212.10M546.13 171.81L547.93 171.81M547.03 161.06L547.03 171.81M544.33 161.06L547.03 161.06M544.70 156.50L544.70 161.06M544.70 161.06L545.68 161.06M549.73 169.00L549.73 212.10M551.52 173.74L551.52 212.10M553.32 175.01L553.32 212.10M555.12 175.01L555.12 212.10M553.32 175.01L555.12 175.01M554.22 173.74L554.22 175.01M551.52 173.74L554.22 173.74M552.87 171.56L552.87 173.74M556.92 172.65L556.92 212.10M558.72 172.65L558.72 212.10M556.92 172.65L558.72 172.65M557.82 171.56L557.82 172.65M552.87 171.56L557.82 171.56M555.35 170.43L555.35 171.56M560.52 173.47L560.52 212.10M562.32 173.47L562.32 212.10M560.52 173.47L562.32 173.47M561.42 171.55L561.42 173.47M564.12 171.55L564.12 212.10M561.42 171.55L564.12 171.55M562.77 170.43L562.77 171.55M555.35 170.43L562.77 170.43M559.06 169.00L559.06 170.43M549.73 169.00L559.06 169.00M554.40 149.20L554.40 169.00M565.92 174.10L565.92 212.10M567.72 174.10L567.72 212.10M565.92 174.10L567.72 174.10M566.82 172.74L566.82 174.10M569.51 175.22L569.51 212.10M571.31 175.22L571.31 212.10M569.51 175.22L571.31 175.22M570.41 172.74L570.41 175.22M566.82 172.74L570.41 172.74M568.62 170.74L568.62 172.74M573.11 170.74L573.11 212.10M568.62 170.74L573.11 170.74M570.86 169.37L570.86 170.74M574.91 169.37L574.91 212.10M570.86 169.37L574.91 169.37M572.89 167.65L572.89 169.37M576.71 167.65L576.71 212.10M572.89 167.65L576.71 167.65M574.80 165.30L574.80 167.65M578.51 165.30L578.51 212.10M574.80 165.30L578.51 165.30M577.00 156.30L577.00 165.30M576.65 165.30L577.00 165.30M580.31 170.05L580.31 212.10M582.11 173.31L582.11 212.10M583.91 173.31L583.91 212.10M582.11 173.31L583.91 173.31M583.01 170.05L583.01 173.31M580.31 170.05L583.01 170.05M581.66 168.50L581.66 170.05M585.71 168.50L585.71 212.10M581.66 168.50L585.71 168.50M583.50 160.20L583.50 168.50M583.50 168.50L583.68 168.50M587.50 168.50L587.50 212.10M589.30 170.14L589.30 212.10M591.10 171.23L591.10 212.10M592.90 172.58L592.90 212.10M594.70 172.58L594.70 212.10M592.90 172.58L594.70 172.58M593.80 171.23L593.80 172.58M591.10 171.23L593.80 171.23M592.45 170.14L592.45 171.23M589.30 170.14L592.45 170.14M590.88 168.50L590.88 170.14M587.50 168.50L590.88 168.50M588.40 162.50L588.40 168.50M588.40 168.50L589.19 168.50M596.50 170.99L596.50 212.10M598.30 170.99L598.30 212.10M596.50 170.99L598.30 170.99M597.40 167.38L597.40 170.99M600.10 169.23L600.10 212.10M601.90 169.23L601.90 212.10M600.10 169.23L601.90 169.23M601.00 167.38L601.00 169.23M597.40 167.38L601.00 167.38M599.20 166.00L599.20 167.38M603.70 166.00L603.70 212.10M599.20 166.00L603.70 166.00M601.40 163.00L601.40 166.00M605.49 170.10L605.49 212.10M607.29 173.56L607.29 212.10M609.09 173.56L609.09 212.10M607.29 173.56L609.09 173.56M608.19 172.18L608.19 173.56M610.89 172.18L610.89 212.10M608.19 172.18L610.89 172.18M609.54 170.10L609.54 172.18M605.49 170.10L609.54 170.10M607.40 167.10L607.40 170.10M607.40 170.10L607.52 170.10M612.69 171.80L612.69 212.10M614.49 173.43L614.49 212.10M616.29 173.43L616.29 212.10M614.49 173.43L616.29 173.43M615.39 171.80L615.39 173.43M612.69 171.80L615.39 171.80M614.04 170.10L614.04 171.80M618.09 170.10L618.09 212.10M614.04 170.10L618.09 170.10M616.20 167.10L616.20 170.10M616.06 170.10L616.20 170.10M619.89 99.40L619.89 212.10M619.89 99.40L620.00 99.40M621.69 165.70L621.69 212.10M623.48 173.19L623.48 212.10M625.28 173.19L625.28 212.10M623.48 173.19L625.28 173.19M624.38 165.70L624.38 173.19M621.69 165.70L624.38 165.70M623.10 162.80L623.10 165.70M623.04 165.70L623.10 165.70M627.08 165.70L627.08 212.10M628.88 165.70L628.88 212.10M627.08 165.70L628.88 165.70M628.70 162.80L628.70 165.70M627.98 165.70L628.70 165.70M630.68 169.12L630.68 212.10M632.48 169.12L632.48 212.10M630.68 169.12L632.48 169.12M631.58 166.90L631.58 169.12M634.28 166.90L634.28 212.10M631.58 166.90L634.28 166.90M632.60 163.90L632.60 166.90M632.60 166.90L632.93 166.90M636.08 166.90L636.08 212.10M637.88 172.88L637.88 212.10M639.68 172.88L639.68 212.10M637.88 172.88L639.68 172.88M638.78 166.90L638.78 172.88M636.08 166.90L638.78 166.90M636.50 163.90L636.50 166.90M636.50 166.90L637.43 166.90M641.47 166.03L641.47 212.10M643.27 170.65L643.27 212.10M645.07 170.65L645.07 212.10M643.27 170.65L645.07 170.65M644.17 166.03L644.17 170.65M641.47 166.03L644.17 166.03M642.82 162.60L642.82 166.03M646.87 169.44L646.87 212.10M648.67 169.44L648.67 212.10M646.87 169.44L648.67 169.44M647.77 162.60L647.77 169.44M642.82 162.60L647.77 162.60M645.30 151.10L645.30 162.60M650.47 172.65L650.47 212.10M652.27 172.65L652.27 212.10M650.47 172.65L652.27 172.65M651.37 165.40L651.37 172.65M654.07 173.33L654.07 212.10M655.87 173.33L655.87 212.10M654.07 173.33L655.87 173.33M654.97 171.81L654.97 173.33M657.67 171.81L657.67 212.10M654.97 171.81L657.67 171.81M656.32 169.44L656.32 171.81M659.46 169.44L659.46 212.10M656.32 169.44L659.46 169.44M657.89 167.44L657.89 169.44M661.26 167.44L661.26 212.10M657.89 167.44L661.26 167.44M659.58 165.40L659.58 167.44M651.37 165.40L659.58 165.40M655.40 150.60L655.40 165.40M655.40 165.40L655.47 165.40M663.06 186.47L663.06 212.10M664.86 186.47L664.86 212.10M663.06 186.47L664.86 186.47M663.96 176.02L663.96 186.47M666.66 176.02L666.66 212.10M663.96 176.02L666.66 176.02M665.31 169.18L665.31 176.02M668.46 169.18L668.46 212.10M665.31 169.18L668.46 169.18M666.89 164.70L666.89 169.18M670.26 186.54L670.26 212.10M672.06 186.54L672.06 212.10M670.26 186.54L672.06 186.54M671.16 169.87L671.16 186.54M673.86 186.54L673.86 212.10M675.66 186.54L675.66 212.10M673.86 186.54L675.66 186.54M674.76 169.87L674.76 186.54M671.16 169.87L674.76 169.87M672.96 164.70L672.96 169.87M666.89 164.70L672.96 164.70M670.00 161.70L670.00 164.70M669.92 164.70L670.00 164.70M677.45 187.79L677.45 212.10M679.25 187.79L679.25 212.10M677.45 187.79L679.25 187.79M678.35 172.07L678.35 187.79M681.05 172.07L681.05 212.10M678.35 172.07L681.05 172.07M679.70 167.25L679.70 172.07M682.85 167.25L682.85 212.10M679.70 167.25L682.85 167.25M682.20 161.70L682.20 167.25M681.28 167.25L682.20 167.25M61.60 0.80L390.30 0.80M61.60 0.80L61.60 116.20M58.10 116.20L65.00 116.20M58.10 116.20L58.10 140.50M56.70 140.50L59.40 140.50M59.40 140.50L59.40 151.40M58.50 151.40L60.30 151.40M65.00 116.20L65.00 128.50M63.10 128.50L66.60 128.50M63.10 128.50L63.10 157.30M62.10 157.30L63.90 157.30M66.60 128.50L66.60 156.30M65.70 156.30L67.50 156.30M390.30 0.80L390.30 31.00M274.50 31.00L506.40 31.00M274.50 31.00L274.50 57.30M193.80 57.30L355.00 57.30M193.80 57.30L193.80 74.80M126.00 74.80L261.40 74.80M126.00 74.80L126.00 106.10M97.10 106.10L154.60 106.10M97.10 106.10L97.10 146.10M80.40 146.10L114.30 146.10M80.40 146.10L80.40 167.10M74.20 167.10L87.50 167.10M74.20 167.10L74.20 169.30M70.30 169.30L78.70 169.30M87.50 167.10L87.50 169.00M85.90 169.00L89.80 169.00M89.80 169.00L89.80 172.20M88.40 172.20L92.60 172.20M114.30 146.10L114.30 151.40M99.90 151.40L128.30 151.40M99.90 151.40L99.90 157.50M95.40 157.50L104.50 157.50M104.50 157.50L104.50 160.20M99.60 160.20L109.40 160.20M128.30 151.40L128.30 156.10M119.60 156.10L136.70 156.10M136.70 156.10L136.70 162.50M131.10 162.50L142.20 162.50M154.60 106.10L154.60 119.40M150.60 119.40L158.60 119.40M158.60 119.40L158.60 138.50M154.80 138.50L162.90 138.50M154.80 138.50L154.80 162.20M152.50 162.20L157.30 162.20M162.90 138.50L162.90 161.50M161.10 161.50L164.60 161.50M261.40 74.80L261.40 90.60M210.50 90.60L313.00 90.60M210.50 90.60L210.50 140.90M178.50 140.90L242.60 140.90M178.50 140.90L178.50 158.00M169.20 158.00L187.90 158.00M242.60 140.90L242.60 148.10M221.00 148.10L264.60 148.10M221.00 148.10L221.00 154.40M217.00 154.40L225.00 154.40M264.60 148.10L264.60 151.40M249.60 151.40L279.00 151.40M249.60 151.40L249.60 157.20M239.00 157.20L260.60 157.20M260.60 157.20L260.60 159.30M252.90 159.30L268.20 159.30M279.00 151.40L279.00 155.10M275.10 155.10L287.60 155.10M287.60 155.10L287.60 160.70M282.10 160.70L293.60 160.70M313.00 90.60L313.00 132.10M303.40 132.10L321.90 132.10M303.40 132.10L303.40 153.20M301.60 153.20L305.60 153.20M305.60 153.20L305.60 162.80M304.30 162.80L307.10 162.80M321.90 132.10L321.90 135.40M315.70 135.40L327.30 135.40M315.70 135.40L315.70 164.20M313.50 164.20L317.40 164.20M327.30 135.40L327.30 141.20M321.70 141.20L333.10 141.20M321.70 141.20L321.70 161.60M320.50 161.60L323.10 161.60M333.10 141.20L333.10 156.50M330.20 156.50L335.50 156.50M330.20 156.50L330.20 169.30M328.30 169.30L332.00 169.30M328.30 169.30L328.30 192.00M327.40 192.00L329.20 192.00M355.00 57.30L355.00 70.20M341.30 70.20L368.70 70.20M341.30 70.20L341.30 132.60M339.20 132.60L343.40 132.60M343.40 132.60L343.40 155.10M341.70 155.10L344.60 155.10M368.70 70.20L368.70 107.80M352.40 107.80L385.20 107.80M352.40 107.80L352.40 148.30M348.70 148.30L355.30 148.30M355.30 148.30L355.30 164.20M353.30 164.20L357.50 164.20M385.20 107.80L385.20 145.30M364.30 145.30L406.20 145.30M406.20 145.30L406.20 151.40M395.70 151.40L416.50 151.40M395.70 151.40L395.70 157.20M389.40 157.20L401.70 157.20M401.70 157.20L401.70 166.20M399.20 166.20L405.00 166.20M416.50 151.40L416.50 152.40M411.00 152.40L421.40 152.40M421.40 152.40L421.40 159.30M416.50 159.30L426.70 159.30M506.40 31.00L506.40 35.80M440.80 35.80L571.50 35.80M440.80 35.80L440.80 96.70M437.20 96.70L444.40 96.70M437.20 96.70L437.20 149.20M435.60 149.20L438.50 149.20M444.40 96.70L444.40 141.80M442.30 141.80L446.70 141.80M446.70 141.80L446.70 152.30M445.00 152.30L448.90 152.30M448.90 152.30L448.90 161.40M447.10 161.40L451.30 161.40M571.50 35.80L571.50 94.50M513.50 94.50L629.40 94.50M513.50 94.50L513.50 122.20M470.80 122.20L556.40 122.20M470.80 122.20L470.80 141.10M456.40 141.10L485.40 141.10M485.40 141.10L485.40 150.80M464.30 150.80L506.30 150.80M506.30 150.80L506.30 155.30M491.40 155.30L521.00 155.30M521.00 155.30L521.00 160.30M507.80 160.30L532.50 160.30M507.80 160.30L507.80 163.30M500.70 163.30L513.90 163.30M532.50 160.30L532.50 162.80M529.40 162.80L535.70 162.80M556.40 122.20L556.40 140.10M543.30 140.10L569.50 140.10M543.30 140.10L543.30 156.50M542.20 156.50L544.70 156.50M569.50 140.10L569.50 149.20M554.40 149.20L583.80 149.20M583.80 149.20L583.80 156.30M577.00 156.30L590.60 156.30M590.60 156.30L590.60 160.20M583.50 160.20L597.40 160.20M597.40 160.20L597.40 162.50M588.40 162.50L606.60 162.50M606.60 162.50L606.60 163.00M601.40 163.00L611.80 163.00M611.80 163.00L611.80 167.10M607.40 167.10L616.20 167.10M629.40 94.50L629.40 99.40M620.00 99.40L639.20 99.40M639.20 99.40L639.20 112.00M625.80 112.00L652.40 112.00M625.80 112.00L625.80 162.80M623.10 162.80L628.70 162.80M652.40 112.00L652.40 129.60M639.70 129.60L665.10 129.60M639.70 129.60L639.70 151.10M634.20 151.10L645.30 151.10M634.20 151.10L634.20 163.90M632.60 163.90L636.50 163.90M665.10 129.60L665.10 150.60M655.40 150.60L675.30 150.60M675.30 150.60L675.30 161.70M670.00 161.70L682.20 161.70" fill="none" stroke="#000" stroke-width="1.2" stroke-linecap="round"/><path d="" fill="none" stroke="#000" stroke-width="1.2" stroke-linecap="round"/>
</svg>
</body></html>
